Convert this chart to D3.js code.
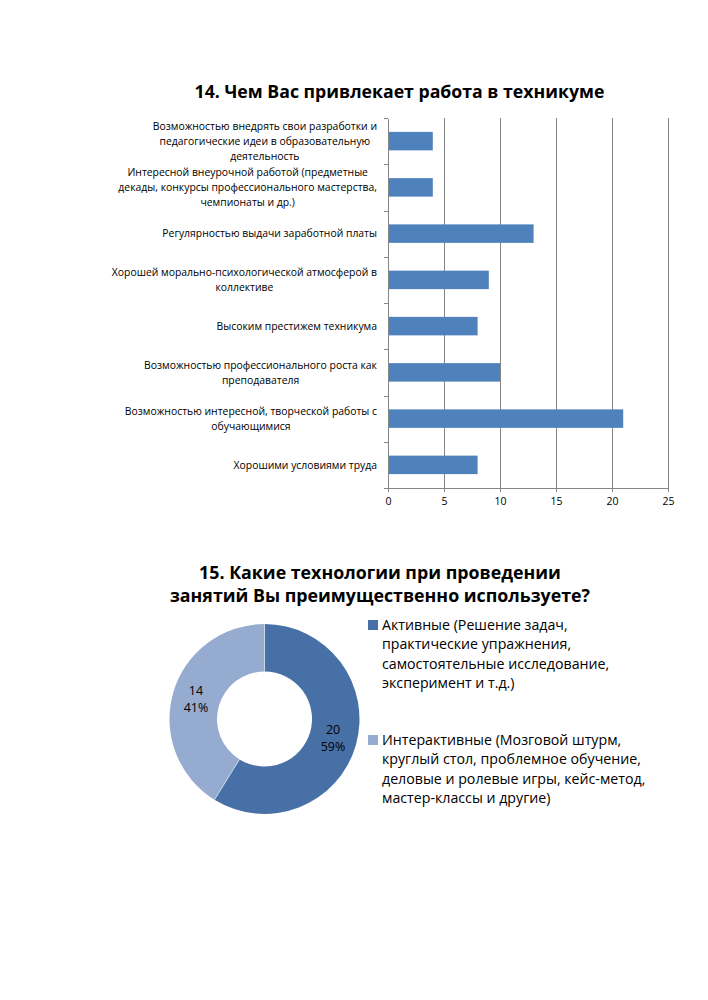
<!DOCTYPE html>
<html><head><meta charset="utf-8">
<script src="https://cdn.jsdelivr.net/npm/d3@7"></script>
<style>body{margin:0;background:#fff} svg{display:block} text{font-family:"Open Sans",sans-serif;fill:#000}</style>
</head><body><svg id="c" width="708" height="1000"></svg>
<script>
// ---------- data ----------
const barTitle = "14. Чем Вас привлекает работа в техникуме";
const barCategories = [
  ["Возможностью внедрять свои разработки и", "педагогические идеи в образовательную", "деятельность"],
  ["Интересной внеурочной работой (предметные", "декады, конкурсы профессионального мастерства,", "чемпионаты и др.)"],
  ["Регулярностью выдачи заработной платы"],
  ["Хорошей морально-психологической атмосферой в", "коллективе"],
  ["Высоким престижем техникума"],
  ["Возможностью профессионального роста как", "преподавателя"],
  ["Возможностью интересной, творческой работы с", "обучающимися"],
  ["Хорошими условиями труда"]
];
const barValues = [4, 4, 13, 9, 8, 10, 21, 8];
const barTicks = [0, 5, 10, 15, 20, 25];

const donutTitle = ["15. Какие технологии при проведении", "занятий Вы преимущественно используете?"];
const donutCategories = ["Активные", "Интерактивные"];
const donutValues = [20, 14];
const donutPercents = ["59%", "41%"];
const legendLines = [
  ["Активные (Решение задач,", "практические упражнения,", "самостоятельные исследование,", "эксперимент и т.д.)"],
  ["Интерактивные (Мозговой штурм,", "круглый стол, проблемное обучение,", "деловые и ролевые игры, кейс-метод,", "мастер-классы и другие)"]
];
const donutColors = ["#4770a6", "#95abd0"];

// ---------- bar chart ----------
const svg = d3.select("#c");
const gridColor = "#868686";

svg.append("text").attr("x", 399.5).attr("y", 98).attr("text-anchor", "middle")
  .attr("font-size", 17.7).attr("font-weight", "bold").text(barTitle);

const x = d3.scaleLinear().domain([0, 25]).range([388, 668]);
const y = d3.scaleBand().domain(d3.range(barValues.length)).range([118, 488])
  .paddingInner(0.6).paddingOuter(0.3);
const yb = d3.scaleLinear().domain([0, barValues.length]).range([118, 488]);

// gridlines
svg.append("g").selectAll("line").data(barTicks.slice(1)).join("line")
  .attr("x1", d => x(d)).attr("x2", d => x(d)).attr("y1", 118).attr("y2", 488)
  .attr("stroke", gridColor).attr("stroke-width", 1).attr("shape-rendering", "crispEdges");

// bars
svg.append("g").selectAll("rect").data(barValues).join("rect")
  .attr("x", x(0)).attr("y", (d, i) => y(i))
  .attr("width", d => x(d) - x(0)).attr("height", y.bandwidth())
  .attr("fill", "#4f81bd");

// left axis (category boundaries)
const ax = svg.append("g").attr("transform", `translate(${x(0)},0)`)
  .call(d3.axisLeft(yb).ticks(barValues.length).tickFormat("").tickSize(4).tickSizeOuter(0));
ax.selectAll("path,line").attr("stroke", gridColor).attr("shape-rendering", "crispEdges");

// bottom axis
const bx = svg.append("g").attr("transform", "translate(0,488)")
  .call(d3.axisBottom(x).tickValues(barTicks).tickSize(4).tickSizeOuter(0).tickPadding(6));
bx.selectAll("path,line").attr("stroke", gridColor).attr("shape-rendering", "crispEdges");
bx.selectAll("text").attr("font-family", "Open Sans").attr("font-size", 10.5).attr("fill", "#000");

// category labels
const labG = svg.append("g");
barCategories.forEach((lines, i) => {
  const cy = y(i) + y.bandwidth() / 2;
  const t = labG.append("text").attr("font-size", 10.4).attr("text-anchor", "middle");
  lines.forEach((ln, j) => {
    t.append("tspan").attr("y", cy + (j - (lines.length - 1) / 2) * 15)
      .attr("dy", "0.35em").text(ln);
  });
  let maxW = 0;
  t.selectAll("tspan").each(function () { maxW = Math.max(maxW, this.getComputedTextLength()); });
  t.selectAll("tspan").attr("x", 377 - maxW / 2);
});

// ---------- donut chart ----------
donutTitle.forEach((ln, i) => {
  svg.append("text").attr("x", 380).attr("y", 579 + i * 23).attr("text-anchor", "middle")
    .attr("font-size", 17.8).attr("font-weight", "bold").text(ln);
});

const cx = 264.5, cy = 719, rOut = 95, rIn = 47.5;
const pie = d3.pie().sort(null).value(d => d);
const arcs = pie(donutValues);
const arc = d3.arc().innerRadius(rIn).outerRadius(rOut);
const g = svg.append("g").attr("transform", `translate(${cx},${cy})`);
g.selectAll("path").data(arcs).join("path").attr("d", arc)
  .attr("fill", (d, i) => donutColors[i]);
// separators
g.selectAll("line.sep").data(arcs).join("line").attr("class", "sep")
  .attr("x1", d => rIn * Math.sin(d.startAngle)).attr("y1", d => -rIn * Math.cos(d.startAngle))
  .attr("x2", d => rOut * Math.sin(d.startAngle)).attr("y2", d => -rOut * Math.cos(d.startAngle))
  .attr("stroke", "#ffffff").attr("stroke-width", 0.8).attr("opacity", 0.6);

arcs.forEach((a, i) => {
  const [lx, ly] = arc.centroid(a);
  const t = g.append("text").attr("text-anchor", "middle").attr("font-size", 12.5);
  t.append("tspan").attr("x", lx).attr("y", ly - 8.5).attr("dy", "0.35em").text(donutValues[i]);
  t.append("tspan").attr("x", lx).attr("y", ly + 8.5).attr("dy", "0.35em").text(donutPercents[i]);
});

// legend
const legY = [625, 740];
legendLines.forEach((lines, i) => {
  svg.append("rect").attr("x", 368).attr("y", legY[i] - 5).attr("width", 10).attr("height", 10)
    .attr("fill", donutColors[i]);
  const t = svg.append("text").attr("font-size", 14.2);
  lines.forEach((ln, j) => {
    t.append("tspan").attr("x", 382).attr("y", legY[i] + j * 19.5).attr("dy", "0.35em").text(ln);
  });
});
</script>
</body></html>
